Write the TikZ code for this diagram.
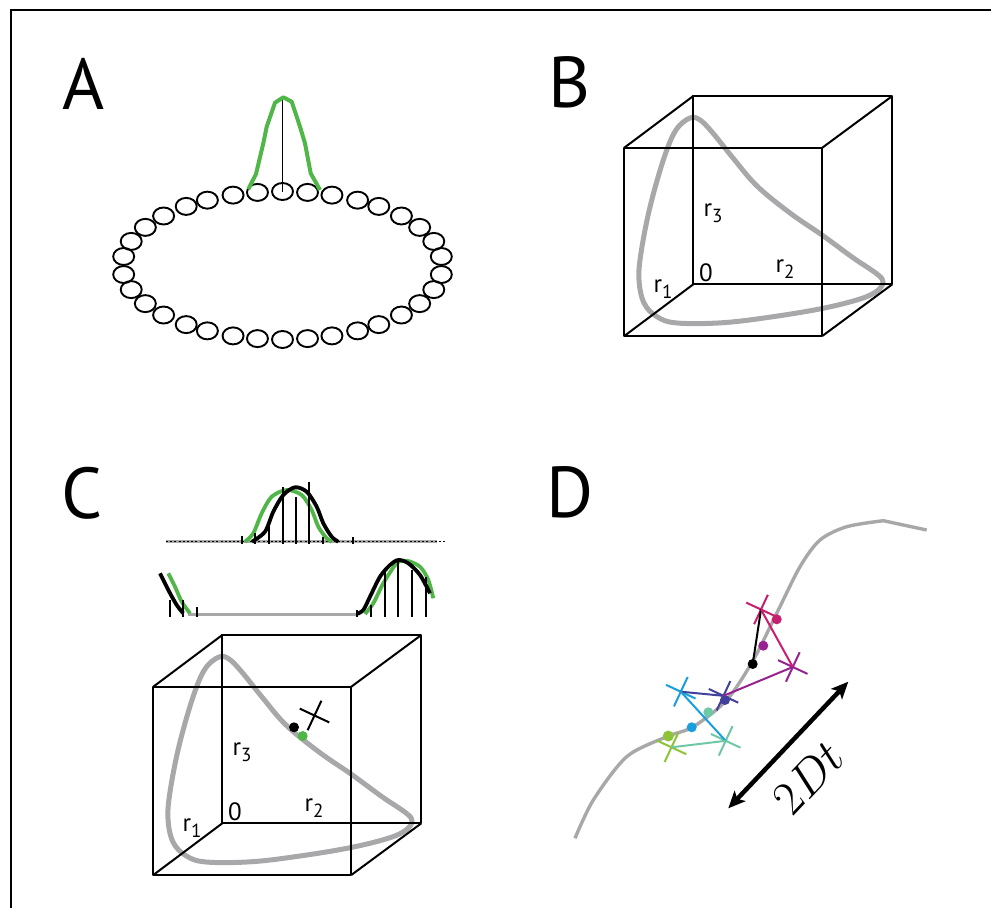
\RequirePackage{fix-cm}
\documentclass[tikz,border=0pt]{standalone}
\usepackage{fontspec}
\setsansfont{PT Sans}
\usetikzlibrary{shapes.geometric,shapes.misc,arrows.meta,positioning}
\definecolor{gr}{RGB}{80,182,72}
\definecolor{lp}{RGB}{168,168,170}
\definecolor{cr}{RGB}{200,30,110}
\definecolor{pu}{RGB}{150,35,145}
\definecolor{ind}{RGB}{65,65,155}
\definecolor{cy}{RGB}{25,160,220}
\definecolor{tl}{RGB}{110,200,165}
\definecolor{lm}{RGB}{140,195,55}
\newcommand{\axsub}[1]{\raisebox{-0.45ex}{\fontsize{19}{21}\selectfont #1}}

\begin{document}
\begin{tikzpicture}[x=1pt,y=-1pt,
    panel/.style={font=\fontsize{72}{80}\selectfont\sffamily,anchor=base,inner sep=0pt},
    ax/.style={font=\fontsize{25}{28}\selectfont\sffamily,inner sep=0pt},
    bead/.style={ellipse,draw,line width=1.9pt,minimum width=21pt,minimum height=17pt,inner sep=0pt},
    edge/.style={line width=2pt,line join=round},
    loopc/.style={lp,line width=5pt},
    bump/.style={line width=3.8pt,line join=round},
    spike/.style={line width=2pt},
    xm/.style={cross out,draw,line width=2pt,minimum size=21pt,inner sep=0pt,rotate=-70},
    dot/.style={circle,fill,inner sep=0pt,minimum size=10pt},
    walk/.style={line width=2pt},
    dbl/.style={{Stealth[length=17pt,width=15pt,inset=4pt]}-{Stealth[length=17pt,width=15pt,inset=4pt]},line width=4.5pt},
]
\useasboundingbox (0,0) rectangle (991,908);

% frame
\coordinate (fb) at (11,908);
\coordinate (fc) at (11,10);
\coordinate (fr) at (991,10);
\draw[line width=1.5pt] (fb) -- (fc) -- (fr);

% panel letters
\node[panel] (la) at (84,109) {A};
\node[panel] (lb) at (570,107) {B};
\node[panel] (lc) at (82,518) {C};
\node[panel] (ld) at (570,517) {D};

% A: ring of cells with a bump of activity
\foreach \t [count=\i] in {7,19,31,42,53,62,72,81,90,99,108,118,127,138,149,161,173,
    187,199,211,222,233,242,252,261,270,279,288,298,307,318,329,341,353}
  \node[bead] (c\i) at ({282.5+160*cos(\t)},{265.5-74*sin(\t)}) {};
\coordinate (apex) at (282.5,98);
\draw[line width=1.4pt] (c9.center) -- (apex);
\draw[gr,line width=4pt,line join=round] (248.3,189.3) -- (256,174) -- (263.3,143.3) -- (266.7,126.7)
  -- (275,102.7) -- (283.3,97.3) -- (291.7,101.7) -- (300,126.7) -- (305,143.3) -- (310.7,173.3) -- (320,190);

% B and C: state space cube with the loop
\foreach \p/\dx/\dy in {B/0/0,C/-471/539}{
\begin{scope}[shift={(\dx,\dy)}]
  \coordinate (\p f1) at (624.3,147.7);
  \coordinate (\p f2) at (822.3,147.7);
  \coordinate (\p f3) at (822.3,336);
  \coordinate (\p f4) at (624.3,336);
  \coordinate (\p k1) at (693.3,96);
  \coordinate (\p k2) at (892.3,96);
  \coordinate (\p k3) at (892.3,284.3);
  \coordinate (\p k4) at (693.3,284.3);
  \draw[loopc] plot[smooth cycle,tension=0.6] coordinates {(700,120) (712,132) (733,158) (757,186)
    (790,213) (822,235) (852,257) (877,274) (883,282) (877,291) (860,299) (823,308.3) (773,316.7)
    (723,322.7) (677,323) (657,316.7) (644,303) (639,280) (641,253) (650,207) (664,158) (676,130) (690,118)};
  \draw[edge] (\p f1) -- (\p f2) -- (\p f3) -- (\p f4) -- cycle;
  \draw[edge] (\p k1) -- (\p k2) -- (\p k3) -- (\p k4) -- cycle;
  \draw[edge] (\p f1) -- (\p k1) (\p f2) -- (\p k2) (\p f3) -- (\p k3) (\p f4) -- (\p k4);
  \node[ax] (\p r3) at (713,213) {r\axsub{3}};
  \node[ax] (\p r2) at (785,269) {r\axsub{2}};
  \node[ax] (\p r1) at (663,289) {r\axsub{1}};
  \node[ax] (\p o) at (706,273) {0};
\end{scope}}

% C: state on the loop
\node[dot,black] (cb) at (294,727.3) {};
\node[dot,gr] (cg) at (302.7,736) {};
\node[xm] (cx) at (314.5,715.5) {};

% C: tuning curves and spikes
\draw[lp,line width=3pt] (166,541.7) -- (437,541.7);
\draw[black,line width=0.9pt,dash pattern=on 2pt off 2.2pt] (166,541.7) -- (445,541.7);
\draw[gr,bump] plot[smooth] coordinates {(245,541.7) (253.3,533.3) (261.7,513.3) (271.7,496.7)
  (286.7,490) (301.7,495) (311.7,510) (318.3,526.7) (326.7,538.3) (331.7,541.7)};
\draw[bump] plot[smooth] coordinates {(252,541.7) (265,531.7) (273.3,511.7) (283.3,495)
  (295,487.3) (306.7,491.7) (316.7,506.7) (323.3,523.3) (331.7,536.7) (338.3,541.7)};
\foreach \x/\h in {241.7/536,255/533.3,269.3/520,282.7/486.7,296/496.7,309.3/481.7,323.3/536.7,353.3/536.7}
  \draw[spike] (\x,544) -- (\x,\h);

\draw[lp,line width=3pt] (188,614) -- (357,614);
\draw[gr,bump] plot[smooth] coordinates {(168.3,573.3) (175,586.7) (181.7,601.7) (190,613.3)};
\draw[bump] plot[smooth] coordinates {(160,573.3) (168.3,590) (176.7,605) (183.3,613.3)};
\draw[gr,bump] plot[smooth] coordinates {(365,614) (373.3,603.3) (383.3,583.3) (396.7,563.3)
  (406.7,560.7) (420,566.7) (428.3,580) (433.3,598.3)};
\draw[bump] plot[smooth] coordinates {(356.7,614) (363.3,610) (370,596.7) (380,576.7) (390,565)
  (398.3,560) (408.3,563.3) (420,575) (430,593.3)};
\foreach \x/\h in {170/600,183.3/600,196.7/606.7,357.3/610,370.7/605,385/570,398.3/559.3,411.7/570,425.7/576.7}
  \draw[spike] (\x,616.7) -- (\x,\h);

% D: diffusion along the loop
\draw[lp,line width=3.4pt] plot[smooth] coordinates {(575,838.3) (593.3,800) (626.7,756.7)
  (666.7,736.7) (693.3,726.7) (726.7,700) (753.3,660) (776.7,613.3) (800,566.7) (820,540)
  (846.7,526.7) (883.3,520.7)} -- (926.7,530);

\node[xm,cr] (xa) at (761,609.5) {};
\node[xm,pu] (xb) at (792.8,667) {};
\node[xm,ind] (xc) at (723.5,695.8) {};
\node[xm,cy] (xd) at (680.8,691.7) {};
\node[xm,tl] (xe) at (725.7,740.8) {};
\node[xm,lm] (xf) at (671.5,747.3) {};

\node[dot,cr] (da) at (776.7,619.3) {};
\node[dot,pu] (db) at (763.3,645.7) {};
\node[dot,black] (dk) at (752.7,664) {};
\node[dot,ind] (dc) at (725,700) {};
\node[dot,tl] (de) at (708.3,712.3) {};
\node[dot,cy] (dd) at (691.7,727.3) {};
\node[dot,lm,minimum size=11pt] (df) at (668.3,736) {};

\draw[walk,black] (dk.center) -- (xa.center);
\draw[walk,cr] (xa.center) -- (xb.center);
\draw[walk,pu] (xb.center) -- (xc.center);
\draw[walk,ind] (xc.center) -- (xd.center);
\draw[walk,cy] (xd.center) -- (xe.center);
\draw[walk,tl] (xe.center) -- (xf.center);

\coordinate (lo) at (728.3,808.3);
\coordinate (hi) at (848.3,681.7);
\draw[dbl] (lo) -- (hi);
\node[rotate=46.5,font=\fontsize{48}{56}\selectfont] (dt) at (808.3,777.3) {$2Dt$};
\end{tikzpicture}
\end{document}
